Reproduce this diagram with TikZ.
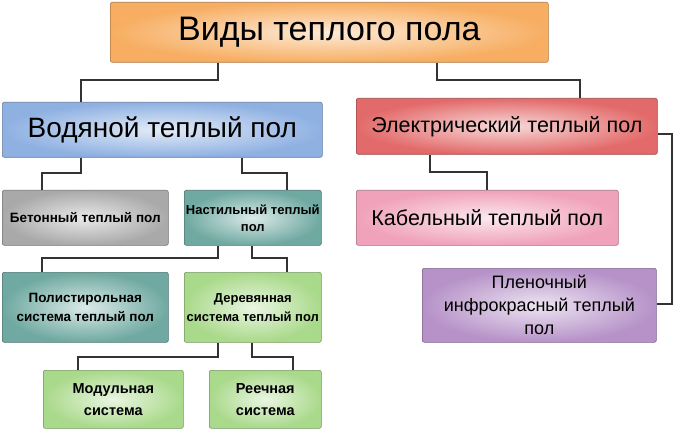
\documentclass[tikz,border=0pt]{standalone}
\usepackage{fontspec}
\setmainfont{Liberation Sans}
\begin{document}
\begin{tikzpicture}[x=1pt,y=-1pt,
  box/.style={draw=#1!70!black, line width=0.6pt, rounded corners=2pt, inner sep=0pt, align=center, anchor=north west, inner color=#1!25!white, outer color=#1},
  conn/.style={draw=black!80, line width=1.1pt}]
\definecolor{cor}{HTML}{F7AE62}
\definecolor{cbl}{HTML}{8FB1E2}
\definecolor{cre}{HTML}{E36A6A}
\definecolor{cgr}{HTML}{A9A9A9}
\definecolor{ctl}{HTML}{6FA9A1}
\definecolor{cgn}{HTML}{A9D98A}
\definecolor{cpk}{HTML}{F0A2BA}
\definecolor{cpu}{HTML}{B692C8}
\useasboundingbox[fill=white] (0,0) rectangle (676,430);
\node[box=cor, minimum width=438pt, minimum height=60pt, font=\fontsize{34}{38}\selectfont] (top) at (110,2) {Виды теплого пола};
\node[box=cbl, minimum width=320pt, minimum height=55pt, font=\fontsize{28}{32}\selectfont] (vod) at (2,102) {Водяной теплый пол};
\node[box=cre, minimum width=301pt, minimum height=56pt, font=\fontsize{21.5}{24}\selectfont] (ele) at (356,98) {Электрический теплый пол};
\node[box=cgr, minimum width=166pt, minimum height=55pt, font=\bfseries\fontsize{13.5}{16}\selectfont] (bet) at (2,190) {Бетонный теплый пол};
\node[box=ctl, minimum width=137pt, minimum height=55pt, font=\bfseries\fontsize{13}{17}\selectfont] (nas) at (184,190) {Настильный теплый\\пол};
\node[box=cpk, minimum width=262pt, minimum height=55pt, font=\fontsize{21.5}{24}\selectfont] (kab) at (356,190) {Кабельный теплый пол};
\node[box=ctl, minimum width=166pt, minimum height=70pt, font=\bfseries\fontsize{13.5}{19}\selectfont] (pol) at (2,272) {Полистирольная\\система теплый пол};
\node[box=cgn, minimum width=137pt, minimum height=70pt, font=\bfseries\fontsize{13}{19}\selectfont] (der) at (184,272) {Деревянная\\система теплый пол};
\node[box=cpu, minimum width=234pt, minimum height=74pt, font=\fontsize{18}{23}\selectfont] (ple) at (422,268) {Пленочный\\инфрокрасный теплый\\пол};
\node[box=cgn, minimum width=140pt, minimum height=58pt, font=\bfseries\fontsize{14.5}{22}\selectfont] (mod) at (43,370) {Модульная\\система};
\node[box=cgn, minimum width=112pt, minimum height=58pt, font=\bfseries\fontsize{14.5}{22}\selectfont] (ree) at (209,370) {Реечная\\система};
\draw[conn] (top.south -| 218,0) |- (81,80) -- (vod.north -| 81,0);
\draw[conn] (top.south -| 437,0) |- (580,80) -- (ele.north -| 580,0);
\draw[conn] (vod.south -| 81,0) |- (42,173) -- (bet.north -| 42,0);
\draw[conn] (vod.south -| 242,0) |- (287,173) -- (nas.north -| 287,0);
\draw[conn] (ele.south -| 430,0) |- (487,172) -- (kab.north -| 487,0);
\draw[conn] (ele.east |- 0,134) -- (672,134) |- (ple.east |- 0,304);
\draw[conn] (nas.south -| 218,0) |- (42,258) -- (pol.north -| 42,0);
\draw[conn] (nas.south -| 252,0) |- (287,258) -- (der.north -| 287,0);
\draw[conn] (der.south -| 218,0) |- (78,357) -- (mod.north -| 78,0);
\draw[conn] (der.south -| 252,0) |- (293,357) -- (ree.north -| 293,0);
\end{tikzpicture}
\end{document}
